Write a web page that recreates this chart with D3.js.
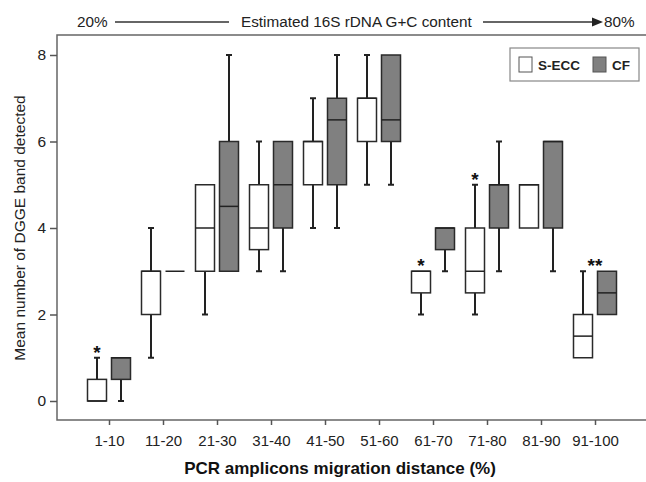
<!DOCTYPE html>
<html>
<head>
<meta charset="utf-8">
<script src="https://cdn.jsdelivr.net/npm/d3@7"></script>
<style>
  body { margin: 0; background: #fff; }
  svg { display: block; font-family: "Liberation Sans", Arial, sans-serif; }
</style>
</head>
<body>
<div id="chart"></div>
<script>
// categories along x
const categories = ['1-10', '11-20', '21-30', '31-40', '41-50', '51-60', '61-70', '71-80', '81-90', '91-100'];

// box stats per category: [min, q1, median, q3, max]
const secc = [
  [0, 0, 0, 0.5, 1],
  [1, 2, 3, 3, 4],
  [2, 3, 4, 5, 5],
  [3, 3.5, 4, 5, 6],
  [4, 5, 6, 6, 7],
  [5, 6, 7, 7, 8],
  [2, 2.5, 3, 3, 3],
  [2, 2.5, 3, 4, 5],
  [4, 4, 5, 5, 5],
  [1, 1, 1.5, 2, 3]
];
const cf = [
  [0, 0.5, 1, 1, 1],
  [3, 3, 3, 3, 3],
  [3, 3, 4.5, 6, 8],
  [3, 4, 5, 6, 6],
  [4, 5, 6.5, 7, 8],
  [5, 6, 6.5, 8, 8],
  [3, 3.5, 4, 4, 4],
  [3, 4, 5, 5, 6],
  [3, 4, 6, 6, 6],
  [2, 2, 2.5, 3, 3]
];

const yTicks = [0, 2, 4, 6, 8];
const legendLabels = ['S-ECC', 'CF'];

// significance marks: which box they sit over
const stars = [
  {cat: '1-10', over: 'secc', text: '*'},
  {cat: '61-70', over: 'secc', text: '*'},
  {cat: '71-80', over: 'secc', text: '*'},
  {cat: '91-100', over: 'both', text: '**'}
];

const width = 646, height = 482;
const frame = {left: 57, right: 646, top: 35, bottom: 420};
const boxW = 19, offset = 12;

const svg = d3.select('#chart').append('svg')
  .attr('width', width)
  .attr('height', height)
  .attr('viewBox', `0 0 ${width} ${height}`);

//
// Scales
//
const x = d3.scalePoint().domain(categories).range([109, 595]);
const y = d3.scaleLinear().domain([0, 8]).range([401, 55]);

//
// Frame + axes
//
svg.append('path')
  .attr('d', `M${frame.right},${frame.top} H${frame.left} V${frame.bottom} H${frame.right}`)
  .attr('fill', 'none')
  .attr('stroke', '#666')
  .attr('stroke-width', 1.5);

const yAxis = svg.append('g')
  .attr('transform', `translate(${frame.left},0)`)
  .call(d3.axisLeft(y).tickValues(yTicks).tickSize(7).tickPadding(4));
yAxis.select('.domain').remove();

const xAxis = svg.append('g')
  .attr('transform', `translate(0,${frame.bottom})`)
  .call(d3.axisBottom(x).tickSize(5).tickPadding(10));
xAxis.select('.domain').remove();

svg.selectAll('.tick line').attr('stroke', '#555').attr('stroke-width', 1.5);
svg.selectAll('.tick text')
  .attr('fill', '#222')
  .style('font-family', '"Liberation Sans", Arial, sans-serif');
yAxis.selectAll('.tick text').style('font-size', '15.5px');
xAxis.selectAll('.tick text').style('font-size', '15px');

//
// Boxes
//
const series = [
  {key: 'secc', data: secc, fill: '#fff', dx: -offset},
  {key: 'cf', data: cf, fill: '#808080', dx: offset}
];

series.forEach(s => {
  const g = svg.append('g').attr('class', 'series-' + s.key);
  const items = g.selectAll('g.box')
    .data(categories.map((c, i) => ({cat: c, v: s.data[i]})))
    .enter().append('g')
    .attr('class', 'box')
    .attr('transform', d => `translate(${x(d.cat) + s.dx},0)`);

  items.each(function(d) {
    const el = d3.select(this);
    const [mn, q1, md, q3, mx] = d.v;
    const wh = (from, to) => {
      el.append('line')
        .attr('x1', 0).attr('x2', 0)
        .attr('y1', y(from)).attr('y2', y(to))
        .attr('stroke', '#222').attr('stroke-width', 2);
      el.append('line')
        .attr('x1', -3).attr('x2', 3)
        .attr('y1', y(to)).attr('y2', y(to))
        .attr('stroke', '#222').attr('stroke-width', 2);
    };
    if (mx > q3) wh(q3, mx);
    if (mn < q1) wh(q1, mn);
    el.append('rect')
      .attr('x', -boxW / 2)
      .attr('y', y(q3))
      .attr('width', boxW)
      .attr('height', y(q1) - y(q3))
      .attr('fill', s.fill)
      .attr('stroke', '#2a2a2a')
      .attr('stroke-width', q3 === q1 ? 2 : 1.5);
    el.append('line')
      .attr('x1', -boxW / 2).attr('x2', boxW / 2)
      .attr('y1', y(md)).attr('y2', y(md))
      .attr('stroke', '#222').attr('stroke-width', 1.5);
  });
});

//
// Stars
//
svg.append('g').selectAll('text')
  .data(stars)
  .enter().append('text')
  .attr('x', d => d.over === 'both' ? x(d.cat) : x(d.cat) - offset)
  .attr('y', d => {
    const i = categories.indexOf(d.cat);
    const top = d.over === 'both' ? Math.max(secc[i][4], cf[i][4]) : secc[i][4];
    return y(top) + 1;
  })
  .attr('text-anchor', 'middle')
  .attr('font-size', 19)
  .attr('font-weight', 'bold')
  .attr('fill', '#111')
  .text(d => d.text);

//
// Legend
//
const legend = svg.append('g');
legend.append('rect')
  .attr('x', 510).attr('y', 48).attr('width', 129).attr('height', 33)
  .attr('fill', '#fff').attr('stroke', '#888').attr('stroke-width', 1.2);
const legendX = [519, 593];
legendLabels.forEach((lab, i) => {
  legend.append('rect')
    .attr('x', legendX[i]).attr('y', 57).attr('width', 13).attr('height', 15)
    .attr('fill', series[i].fill).attr('stroke', '#555').attr('stroke-width', 1);
  legend.append('text')
    .attr('x', legendX[i] + 19).attr('y', 69.5)
    .attr('font-size', 13.5).attr('font-weight', 'bold').attr('fill', '#222')
    .text(lab);
});

//
// Header arrow
//
const header = svg.append('g').attr('fill', '#222').attr('font-size', 15.3);
header.append('text').attr('x', 77).attr('y', 27).text('20%');
header.append('line').attr('x1', 115).attr('x2', 229).attr('y1', 22).attr('y2', 22)
  .attr('stroke', '#333').attr('stroke-width', 1.5);
header.append('text').attr('x', 241).attr('y', 27).text('Estimated 16S rDNA G+C content');
header.append('line').attr('x1', 483).attr('x2', 594).attr('y1', 22).attr('y2', 22)
  .attr('stroke', '#333').attr('stroke-width', 1.5);
header.append('path').attr('d', 'M592,17.5 L603,22 L592,26.5 Z').attr('fill', '#222');
header.append('text').attr('x', 604).attr('y', 27).text('80%');

//
// Axis titles
//
svg.append('text')
  .attr('transform', 'translate(25,228) rotate(-90)')
  .attr('text-anchor', 'middle')
  .attr('font-size', 15.5)
  .attr('fill', '#222')
  .text('Mean number of DGGE band detected');

svg.append('text')
  .attr('x', 340).attr('y', 474)
  .attr('text-anchor', 'middle')
  .attr('font-size', 17)
  .attr('font-weight', 'bold')
  .attr('fill', '#111')
  .text('PCR amplicons migration distance (%)');
</script>
</body>
</html>
